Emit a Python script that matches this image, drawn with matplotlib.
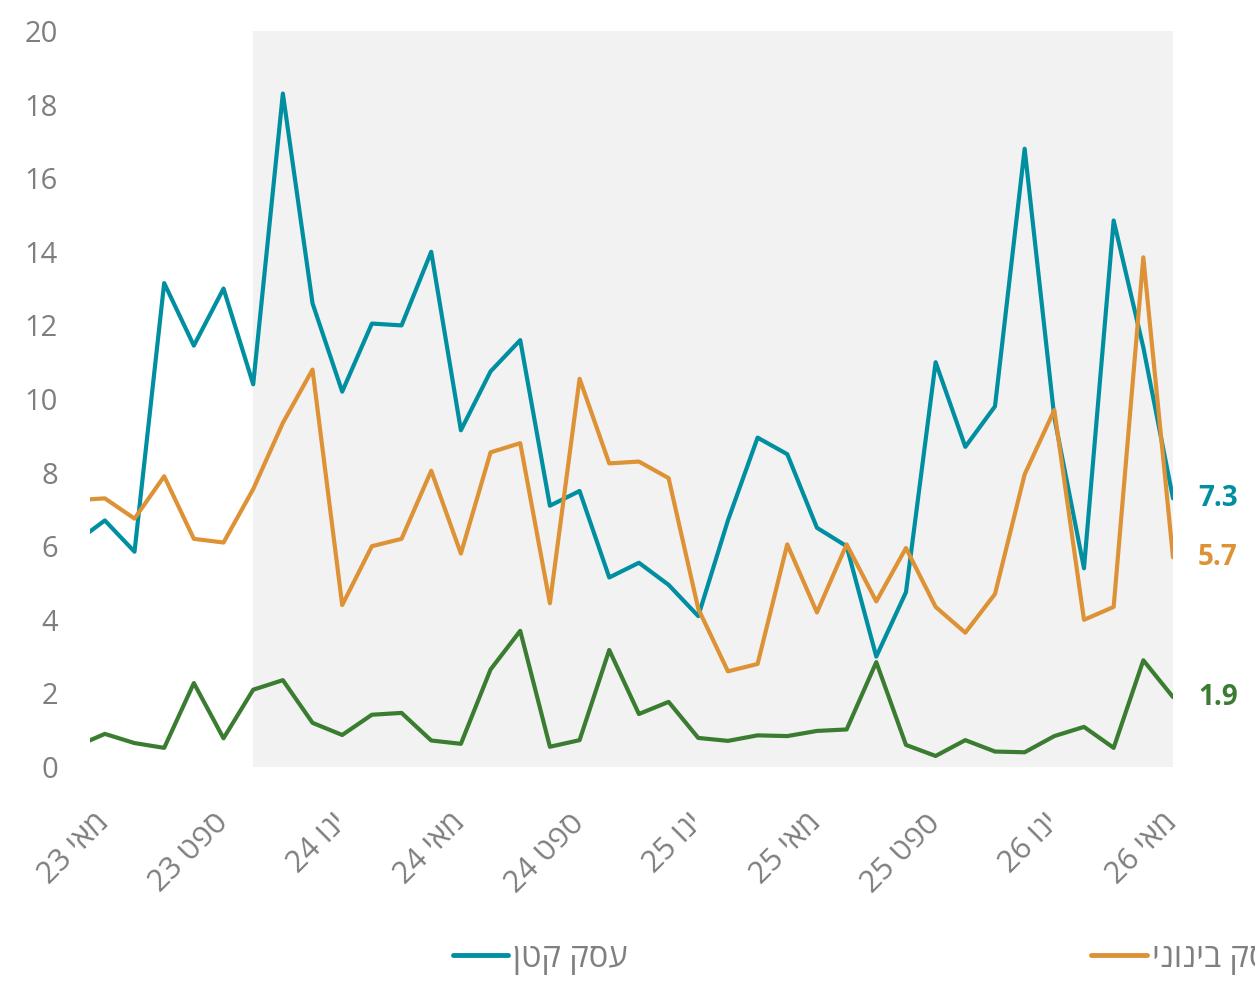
import numpy as np
import matplotlib.pyplot as plt
from matplotlib.lines import Line2D

# monthly series, Apr 2023 .. May 2026
months = ["2023-04", "2023-05", "2023-06", "2023-07", "2023-08", "2023-09",
          "2023-10", "2023-11", "2023-12", "2024-01", "2024-02", "2024-03",
          "2024-04", "2024-05", "2024-06", "2024-07", "2024-08", "2024-09",
          "2024-10", "2024-11", "2024-12", "2025-01", "2025-02", "2025-03",
          "2025-04", "2025-05", "2025-06", "2025-07", "2025-08", "2025-09",
          "2025-10", "2025-11", "2025-12", "2026-01", "2026-02", "2026-03",
          "2026-04", "2026-05"]

small = [6.1, 6.7, 5.85, 13.15, 11.45, 13.0, 10.4, 18.3, 12.6, 10.2, 12.05, 12.0,
         14.0, 9.15, 10.75, 11.6, 7.1, 7.5, 5.15, 5.55, 4.95, 4.1, 6.7, 8.95,
         8.5, 6.5, 6.0, 3.0, 4.75, 11.0, 8.7, 9.8, 16.8, 9.5, 5.4, 14.85,
         11.4, 7.3]
medium = [7.25, 7.3, 6.75, 7.9, 6.2, 6.1, 7.55, 9.35, 10.8, 4.4, 6.0, 6.2,
          8.05, 5.8, 8.55, 8.8, 4.45, 10.55, 8.25, 8.3, 7.85, 4.3, 2.6, 2.8,
          6.05, 4.2, 6.05, 4.5, 5.95, 4.35, 3.65, 4.7, 7.95, 9.7, 4.0, 4.35,
          13.85, 5.7]
large = [0.55, 0.9, 0.65, 0.52, 2.28, 0.78, 2.1, 2.36, 1.2, 0.87, 1.42, 1.47,
         0.72, 0.63, 2.65, 3.7, 0.55, 0.73, 3.18, 1.44, 1.77, 0.79, 0.71, 0.86,
         0.84, 0.98, 1.02, 2.85, 0.6, 0.3, 0.73, 0.42, 0.4, 0.84, 1.09, 0.52,
         2.9, 1.9]

series_names = ["עסק קטן", "עסק בינוני", "עסק גדול"]
colors = ["#008FA0", "#DE9236", "#3A7D31"]

month_names = {"01": "ינו", "05": "מאי", "09": "ספט"}

# plain matplotlib has no bidi support, so Hebrew goes in visual order
def visual(s):
    return s[::-1]

plt.rcParams["font.family"] = ["Open Sans", "DejaVu Sans"]
gray = "#7F7F7F"

fig = plt.figure(figsize=(12.55, 9.88), dpi=100)
ax = fig.add_axes([90 / 1255, 1 - 767 / 988, (1173 - 90) / 1255, (767 - 31) / 988])

x = np.arange(len(months))
ax.axvspan(6, len(months) - 1, color="#F2F2F2", lw=0, zorder=0)

for vals, c in zip([small, medium, large], colors):
    ax.plot(x, vals, color=c, lw=3, solid_joinstyle="round", solid_capstyle="round", zorder=3)
    ax.annotate(f"{vals[-1]:.1f}", xy=(x[-1], vals[-1]), xytext=(18, 0),
                textcoords="offset points", color=c, fontsize=20, fontweight="bold",
                ha="left", va="center", annotation_clip=False)

ax.set_xlim(0.5, len(months) - 1)
ax.set_ylim(0, 20)
ax.set_yticks(range(0, 21, 2))
ax.tick_params(axis="y", length=0, pad=23, labelsize=21, labelcolor=gray)

tick_idx = [i for i, m in enumerate(months) if m[5:] in month_names]
tick_lbl = [months[i][2:4] + " " + visual(month_names[months[i][5:]]) for i in tick_idx]
ax.set_xticks(tick_idx)
ax.set_xticklabels(tick_lbl, rotation=45, ha="right", va="center", rotation_mode="anchor")
ax.tick_params(axis="x", length=0, pad=37, labelsize=22, labelcolor=gray)

for s in ax.spines.values():
    s.set_visible(False)

handles = [Line2D([], [], color=c, lw=3.5, solid_capstyle="round") for c in colors]
fig.legend(handles, [visual(n) for n in series_names], ncol=3, frameon=False,
           loc="center left", bbox_to_anchor=(453 / 1255, 1 - 958 / 988),
           fontsize=23.5, labelcolor=gray, handlelength=1.7, handletextpad=0.15,
           columnspacing=14.2, borderpad=0, borderaxespad=0)

fig.savefig("out.png", dpi=100)
